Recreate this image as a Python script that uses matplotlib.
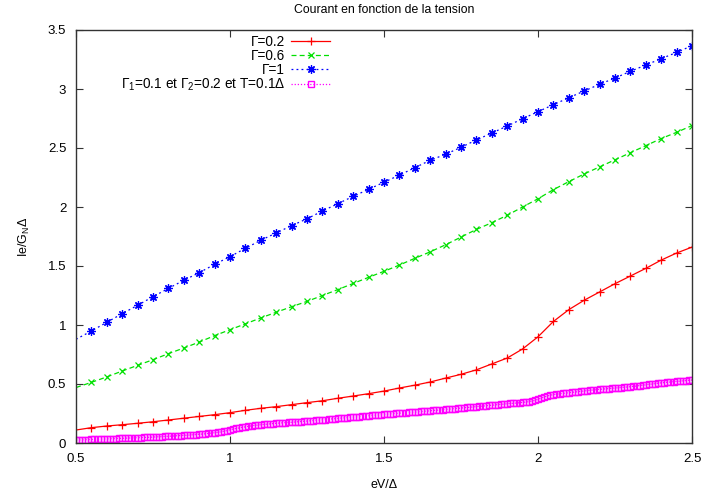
import numpy as np
import matplotlib
matplotlib.use('Agg')
import matplotlib.pyplot as plt

plt.rcParams['font.family'] = ['Liberation Sans', 'DejaVu Sans']
plt.rcParams['mathtext.fontset'] = 'custom'
plt.rcParams['mathtext.rm'] = 'Liberation Sans'
plt.rcParams['mathtext.default'] = 'regular'

# tension eV/Delta, pas de 0.05 pour les trois premieres courbes
v = np.round(np.arange(0.5, 2.5001, 0.05), 3)
i_g02 = [0.11, 0.13, 0.144, 0.155, 0.167, 0.18, 0.195, 0.21, 0.225, 0.24,
         0.257, 0.277, 0.294, 0.308, 0.325, 0.342, 0.358, 0.379, 0.398, 0.418,
         0.44, 0.466, 0.49, 0.517, 0.55, 0.582, 0.62, 0.67, 0.72, 0.797,
         0.90, 1.03, 1.13, 1.21, 1.28, 1.35, 1.415, 1.48, 1.55, 1.61, 1.66]
i_g06 = [0.47, 0.514, 0.56, 0.61, 0.658, 0.706, 0.757, 0.805, 0.855, 0.91,
         0.96, 1.01, 1.06, 1.108, 1.155, 1.20, 1.25, 1.30, 1.352, 1.404,
         1.455, 1.508, 1.565, 1.62, 1.68, 1.745, 1.81, 1.867, 1.93, 2.00,
         2.07, 2.147, 2.215, 2.28, 2.34, 2.40, 2.46, 2.52, 2.58, 2.633, 2.69]
i_g1 = [0.879, 0.949, 1.023, 1.096, 1.167, 1.24, 1.31, 1.379, 1.443, 1.514,
        1.579, 1.65, 1.718, 1.78, 1.842, 1.90, 1.966, 2.028, 2.09, 2.15,
        2.21, 2.27, 2.333, 2.396, 2.447, 2.506, 2.568, 2.627, 2.686, 2.748,
        2.808, 2.867, 2.926, 2.983, 3.04, 3.093, 3.15, 3.203, 3.257, 3.31, 3.367]

# courbe a temperature finie, pas de 0.01
v_t = np.round(np.arange(0.5, 2.5001, 0.01), 3)
i_t = [0.025, 0.026, 0.027, 0.028, 0.029, 0.030, 0.031, 0.032, 0.033, 0.034,
       0.035, 0.036, 0.037, 0.038, 0.039, 0.040, 0.041, 0.042, 0.043, 0.044,
       0.045, 0.046, 0.047, 0.048, 0.049, 0.050, 0.052, 0.053, 0.054, 0.056,
       0.057, 0.059, 0.060, 0.062, 0.063, 0.065, 0.066, 0.068, 0.070, 0.072,
       0.074, 0.076, 0.078, 0.081, 0.084, 0.087, 0.090, 0.094, 0.099, 0.105,
       0.112, 0.118, 0.123, 0.128, 0.133, 0.137, 0.141, 0.145, 0.149, 0.152,
       0.155, 0.157, 0.160, 0.162, 0.165, 0.167, 0.169, 0.171, 0.173, 0.174,
       0.176, 0.178, 0.180, 0.182, 0.184, 0.186, 0.188, 0.190, 0.193, 0.195,
       0.197, 0.199, 0.201, 0.204, 0.206, 0.208, 0.211, 0.213, 0.215, 0.218,
       0.220, 0.222, 0.224, 0.227, 0.229, 0.231, 0.234, 0.236, 0.238, 0.241,
       0.243, 0.245, 0.247, 0.249, 0.251, 0.253, 0.255, 0.257, 0.259, 0.260,
       0.262, 0.264, 0.267, 0.269, 0.271, 0.273, 0.276, 0.278, 0.280, 0.283,
       0.285, 0.287, 0.290, 0.292, 0.294, 0.296, 0.299, 0.301, 0.303, 0.306,
       0.308, 0.310, 0.313, 0.315, 0.318, 0.320, 0.323, 0.325, 0.328, 0.330,
       0.333, 0.335, 0.337, 0.339, 0.341, 0.344, 0.347, 0.350, 0.355, 0.361,
       0.370, 0.380, 0.390, 0.398, 0.405, 0.410, 0.414, 0.417, 0.420, 0.423,
       0.426, 0.429, 0.432, 0.435, 0.438, 0.441, 0.444, 0.447, 0.450, 0.452,
       0.455, 0.457, 0.459, 0.461, 0.464, 0.466, 0.468, 0.470, 0.473, 0.475,
       0.477, 0.480, 0.483, 0.487, 0.490, 0.493, 0.497, 0.500, 0.503, 0.507,
       0.510, 0.512, 0.515, 0.517, 0.520, 0.522, 0.524, 0.527, 0.529, 0.532,
       0.534]

labels = ['Γ=0.2', 'Γ=0.6', 'Γ=1', 'Γ$_1$=0.1 et Γ$_2$=0.2 et T=0.1Δ']

fig = plt.figure(figsize=(7.04, 4.92), dpi=100)
ax = fig.add_axes([76/704, 49/492, 616/704, 413/492])

# gnuplot ne dessine pas le point pose sur le bord gauche
skip = slice(1, None)
ax.plot(v, i_g02, color='#ff0000', lw=0.9, ls='-', marker='+', ms=6, mew=0.9,
        markevery=skip, label=labels[0])
ax.plot(v, i_g06, color='#00e000', lw=0.9, ls=(0, (4, 2.5)), marker='x', ms=5, mew=0.9,
        markevery=skip, label=labels[1])
ax.plot(v, i_g1, color='#0000ff', lw=0.9, ls=(0, (1.5, 2.5)), marker=(8, 2, 0), ms=6, mew=0.9,
        markevery=skip, label=labels[2])
ax.plot(v_t, i_t, color='#ff00ff', lw=0.9, ls=(0, (1, 1.5)), marker='s', ms=4.5, mfc='none', mew=1.0,
        label=labels[3])

ax.set_xlim(0.5, 2.5)
ax.set_ylim(0, 3.5)
ax.set_xticks([0.5, 1, 1.5, 2, 2.5])
ax.set_xticklabels(['0.5', '1', '1.5', '2', '2.5'])
ax.set_yticks([0, 0.5, 1, 1.5, 2, 2.5, 3, 3.5])
ax.set_yticklabels(['0', '0.5', '1', '1.5', '2', '2.5', '3', '3.5'])
ax.tick_params(direction='in', top=True, right=True, length=5, width=0.8,
               labelsize=9.5, pad=7, colors='#333333', labelcolor='black')
for s in ax.spines.values():
    s.set_linewidth(1.0)
    s.set_color('#333333')

ax.set_title('Courant en fonction de la tension', fontsize=8.8, pad=12)
ax.set_xlabel('eV/Δ', fontsize=9, labelpad=10)
ax.set_ylabel('Ie/G$_N$Δ', fontsize=9, labelpad=11)

leg = ax.legend(loc='upper right', bbox_to_anchor=(330/704, 1 - 35/492),
                bbox_transform=fig.transFigure, frameon=False, markerfirst=False,
                fontsize=9.8, handlelength=2.85, handletextpad=0.45, labelspacing=0.0,
                borderpad=0, borderaxespad=0)

fig.savefig('out.png', dpi=100)
